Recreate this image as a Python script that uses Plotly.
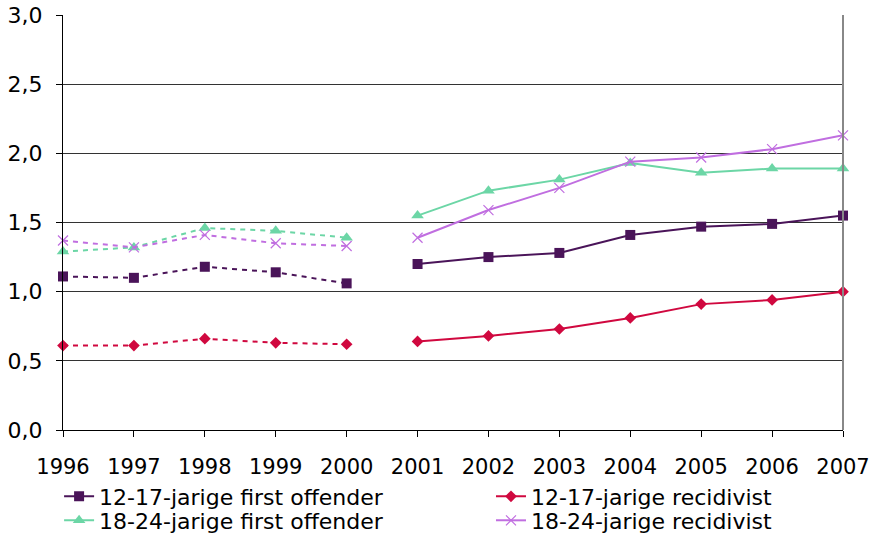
import plotly.graph_objects as go

years = ["1996", "1997", "1998", "1999", "2000", "2001", "2002", "2003", "2004", "2005", "2006", "2007"]
first_1217 = [1.11, 1.10, 1.18, 1.14, 1.06, 1.20, 1.25, 1.28, 1.41, 1.47, 1.49, 1.55]
recid_1217 = [0.61, 0.61, 0.66, 0.63, 0.62, 0.64, 0.68, 0.73, 0.81, 0.91, 0.94, 1.00]
first_1824 = [1.29, 1.32, 1.46, 1.44, 1.39, 1.55, 1.73, 1.81, 1.93, 1.86, 1.89, 1.89]
recid_1824 = [1.37, 1.32, 1.41, 1.35, 1.33, 1.39, 1.59, 1.75, 1.94, 1.97, 2.03, 2.13]
names = ["12-17-jarige first offender", "12-17-jarige recidivist",
         "18-24-jarige first offender", "18-24-jarige recidivist"]
tick_vals = [0, 0.5, 1.0, 1.5, 2.0, 2.5, 3.0]
tick_text = ["0,0", "0,5", "1,0", "1,5", "2,0", "2,5", "3,0"]

series = [first_1217, recid_1217, first_1824, recid_1824]
colors = ["#4a1459", "#d0083f", "#6cd6a6", "#c06ee0"]
symbols = ["square", "diamond", "triangle-up", "x-thin"]
sizes = [10, 9, 11, 10]
legend_ids = ["legend", "legend2", "legend3", "legend4"]

fig = go.Figure()
for i, (vals, name) in enumerate(zip(series, names)):
    mk = dict(symbol=symbols[i], size=sizes[i], color=colors[i],
              line=dict(color=colors[i], width=1.2 if symbols[i] == "x-thin" else 0))
    fig.add_trace(go.Scatter(x=years[:5], y=vals[:5], mode="lines+markers", name=name,
                             line=dict(color=colors[i], width=2, dash="5px,5px"),
                             marker=mk, showlegend=False, cliponaxis=False,
                             legendgroup=name, legend=legend_ids[i]))
    fig.add_trace(go.Scatter(x=years[5:], y=vals[5:], mode="lines+markers", name=name,
                             line=dict(color=colors[i], width=2),
                             marker=mk, showlegend=True, cliponaxis=False,
                             legendgroup=name, legend=legend_ids[i]))

leg_common = dict(orientation="v", xref="container", yref="container",
                  xanchor="left", yanchor="top", traceorder="normal",
                  font=dict(size=22), itemwidth=30, tracegroupgap=0,
                  bgcolor="rgba(0,0,0,0)")
row1, row2 = 0.1112, 0.0663
col1, col2 = 0.068, 0.565

fig.update_layout(
    width=869, height=535,
    margin=dict(l=63, r=26, t=15, b=105, autoexpand=False),
    paper_bgcolor="white", plot_bgcolor="white",
    font=dict(family="DejaVu Sans", size=22, color="black"),
    legend=dict(x=col1, y=row1, **leg_common),
    legend2=dict(x=col2, y=row1, **leg_common),
    legend3=dict(x=col1, y=row2, **leg_common),
    legend4=dict(x=col2, y=row2, **leg_common),
    xaxis=dict(type="category", range=[0, 11], showgrid=False,
               showline=True, linecolor="black", linewidth=1,
               ticks="outside", ticklen=6, tickcolor="black",
               ticklabelstandoff=12, automargin=False,
               tickfont=dict(size=21)),
    yaxis=dict(range=[0, 3.0], tickvals=tick_vals, ticktext=tick_text,
               showgrid=True, gridcolor="#333", gridwidth=1,
               showline=True, linecolor="black", linewidth=1,
               ticks="outside", ticklen=6, tickcolor="black",
               ticklabelstandoff=9, automargin=False,
               zeroline=False, tickfont=dict(size=22)),
)
fig.add_shape(type="line", xref="paper", yref="paper", x0=1, x1=1, y0=0, y1=1,
              line=dict(color="#888", width=2))
fig.write_html("out.html", config={"displayModeBar": False},
               post_script="document.body.style.margin='0';")
